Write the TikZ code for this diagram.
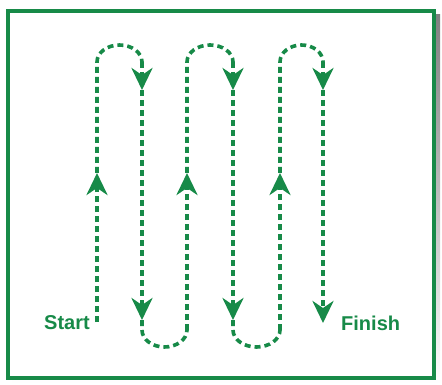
\documentclass[tikz,border=0pt]{standalone}
\usepackage{fontspec}
\setmainfont{Liberation Sans}
\usetikzlibrary{positioning, arrows.meta}
\definecolor{lawn}{HTML}{178A48}
\definecolor{shade}{HTML}{9ACFAC}
\tikzset{
  route/.style={draw=lawn, line width=3.6pt, dash pattern=on 6pt off 4pt},
  tipd/.style={-{Stealth[length=22pt, width=21pt, inset=7pt]}},
  lbl/.style={font=\fontsize{20}{22}\selectfont\bfseries, text=lawn, inner sep=1pt},
  frm/.style={draw=lawn, line width=3.6pt, fill=white},
}

\begin{document}
\begin{tikzpicture}[x=1pt, y=-1pt]
    \useasboundingbox (0,0) rectangle (442,385);
    % frame with shadow
    \fill[shade] (12,15) rectangle (440,384);
    \draw[frm] (8,11) rectangle (434,378);
    % columns
    \coordinate (a0) at (97,322);
    \coordinate (a1) at (97,173);
    \coordinate (a2) at (97,62);
    \coordinate (b1) at (142,62);
    \coordinate (b2) at (142,90);
    \coordinate (b3) at (142,320);
    \coordinate (b4) at (142,330);
    \coordinate (c1) at (187,330);
    \coordinate (c2) at (187,173);
    \coordinate (c3) at (187,62);
    \coordinate (d1) at (233,62);
    \coordinate (d2) at (233,90);
    \coordinate (d3) at (233,320);
    \coordinate (d4) at (233,330);
    \coordinate (e1) at (280,330);
    \coordinate (e2) at (280,173);
    \coordinate (e3) at (280,62);
    \coordinate (f1) at (323,62);
    \coordinate (f2) at (323,90);
    \coordinate (f3) at (323,323);
    % labels
    \node[lbl, anchor=east]  (start)  at (91,323)  {Start};
    \node[lbl, anchor=west]  (finish) at (340,323) {Finish};

    \draw[route, tipd] (a0) -- (a1);
    \draw[route] (a1) -- (a2) arc[start angle=180, end angle=0, x radius=22.5, y radius=-17];
    \draw[route, tipd] (b1) -- (b2);
    \draw[route, tipd] (b2) -- (b3);
    \draw[route] (b3) -- (b4) arc[start angle=180, end angle=360, x radius=22.5, y radius=-17];
    \draw[route, tipd] (c1) -- (c2);
    \draw[route] (c2) -- (c3) arc[start angle=180, end angle=0, x radius=23, y radius=-17];
    \draw[route, tipd] (d1) -- (d2);
    \draw[route, tipd] (d2) -- (d3);
    \draw[route] (d3) -- (d4) arc[start angle=180, end angle=360, x radius=23.5, y radius=-17];
    \draw[route, tipd] (e1) -- (e2);
    \draw[route] (e2) -- (e3) arc[start angle=180, end angle=0, x radius=21.5, y radius=-17];
    \draw[route, tipd] (f1) -- (f2);
    \draw[route, tipd] (f2) -- (f3);
  \end{tikzpicture}
\end{document}
